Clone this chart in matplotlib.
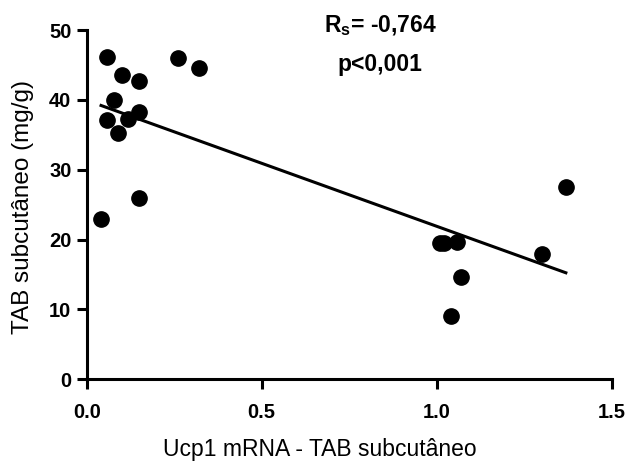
import numpy as np
import matplotlib.pyplot as plt

plt.rcParams['font.family'] = ['Liberation Sans', 'DejaVu Sans']
plt.rcParams['mathtext.fontset'] = 'custom'
plt.rcParams['mathtext.rm'] = 'Liberation Sans'
plt.rcParams['mathtext.bf'] = 'Liberation Sans:bold'

# data
ucp1 = [0.059, 0.100, 0.149, 0.079, 0.059, 0.118, 0.150, 0.089, 0.149, 0.040,
        0.260, 0.321, 1.009, 1.021, 1.059, 1.069, 1.040, 1.300, 1.369]
tab = [46.1, 43.5, 42.7, 40.0, 37.1, 37.3, 38.2, 35.2, 26.0, 23.0,
       46.0, 44.6, 19.5, 19.5, 19.6, 14.7, 9.0, 17.9, 27.5]
fit_x = [0.041, 1.369]
fit_y = [39.2, 15.25]

xticks = [0.0, 0.5, 1.0, 1.5]
xticklabels = ['0.0', '0.5', '1.0', '1.5']
yticks = [0, 10, 20, 30, 40, 50]
yticklabels = ['0', '10', '20', '30', '40', '50']

fig = plt.figure(figsize=(6.27, 4.62), dpi=100)
ax = fig.add_axes([0.1383, 0.179, 0.9756 - 0.1383, 0.935 - 0.179])

ax.plot(ucp1, tab, 'o', color='black', markersize=11, clip_on=False, zorder=3)
ax.plot(fit_x, fit_y, color='black', lw=2.2)

ax.set_xlim(0, 1.5)
ax.set_ylim(0, 50)
ax.set_xticks(xticks)
ax.set_xticklabels(xticklabels, fontsize=14.5, fontweight='bold')
ax.set_yticks(yticks)
ax.set_yticklabels(yticklabels, fontsize=14.5, fontweight='bold')

for s in ['top', 'right']:
    ax.spines[s].set_visible(False)
for s in ['left', 'bottom']:
    ax.spines[s].set_linewidth(2.2)

ax.tick_params(axis='both', direction='out', length=7, width=2.2)
ax.tick_params(axis='y', pad=4)
ax.tick_params(axis='x', pad=10)

ax.set_xlabel('Ucp1 mRNA - TAB subcutâneo', fontsize=16.5, va='center')
ax.set_ylabel('TAB subcutâneo (mg/g)', fontsize=17.5, va='center')
ax.xaxis.set_label_coords(0.444, -0.202)
ax.yaxis.set_label_coords(-0.121, 0.493)

ax.text(0.838, 49.7, r'$\mathbf{R_{s}}$= -0,764', fontsize=16.5, fontweight='bold',
        ha='center', va='baseline', clip_on=False)
ax.text(0.838, 44.2, 'p<0,001', fontsize=16.5, fontweight='bold',
        ha='center', va='baseline', clip_on=False)

fig.savefig('out.png', dpi=100)
